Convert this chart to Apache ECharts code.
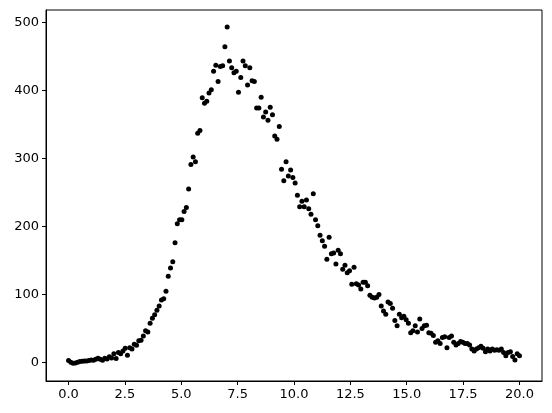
<!DOCTYPE html>
<html><head><meta charset="utf-8">
<script src="https://cdn.jsdelivr.net/npm/echarts@6/dist/echarts.min.js"></script>
<style>html,body{margin:0;padding:0;background:#fff}#c{width:552px;height:413px}</style>
</head><body><div id="c"></div>
<script>
// sampling grid: evenly spaced samples from X_START to X_END
const X_START = 0, X_END = 20;
// measured values, in order of x
const yValues = [
  3, 0.5, -1, -0.5, 0.5, 1.5, 2, 2.4, 2.4, 3,
  3.9, 3.4, 4.9, 6.4, 4.9, 3.4, 6.4, 5.4, 8.8, 6.9,
  13, 5.9, 15, 13, 17, 21, 11, 22, 20, 27,
  25.5, 32, 33, 39, 47, 45, 58, 65, 70.5, 77,
  83, 92, 94, 105, 127, 139, 148, 176, 204, 210,
  210, 222, 228, 255, 291, 302, 295, 337, 341, 389,
  381, 384, 396, 401, 428, 437, 413, 435, 436, 464,
  493, 443, 433, 426, 428, 397, 419, 443, 436, 408,
  433, 414, 413, 374, 374, 390, 361, 368, 356, 375,
  364, 333, 328, 347, 284, 267, 295, 274, 283, 272,
  264, 246, 229, 237, 229, 239, 226, 218, 248, 210,
  201, 187, 179, 171, 152, 184, 160, 161, 145, 165,
  160, 137, 143, 132, 135, 115, 140, 116, 114, 108,
  118, 118, 113, 99, 96, 95, 96, 100, 83, 76,
  71, 89, 87, 80, 62, 54, 71, 66, 68, 63,
  58, 44, 47, 54, 45, 64, 50, 54, 55, 44,
  43, 40, 30, 32, 28, 37, 38, 22, 37, 39,
  30, 26, 28, 31, 30, 28, 28, 26, 20, 17,
  20, 22, 24, 21, 16, 20, 17, 20, 18, 19,
  18, 20, 15, 10, 15, 16, 9, 4, 13, 10
];
const xTicks = [0, 2.5, 5, 7.5, 10, 12.5, 15, 17.5, 20];
const yTicks = [0, 100, 200, 300, 400, 500];

const points = yValues.map((y, i) => [X_START + (X_END - X_START) * i / (yValues.length - 1), y]);

const chart = echarts.init(document.getElementById('c'), null, {renderer: 'canvas'});
const labelStyle = {color: '#000', fontFamily: 'DejaVu Sans', fontSize: 13};
chart.setOption({
  animation: false,
  grid: {left: 46, right: 10, top: 10, bottom: 32, show: true, borderColor: '#000', borderWidth: 1},
  xAxis: {
    type: 'value', min: -1, max: 21,
    axisLine: {show: true, onZero: false, lineStyle: {color: '#000', width: 1}},
    axisTick: {show: true, customValues: xTicks, length: 4, lineStyle: {color: '#000', width: 1}},
    axisLabel: Object.assign({customValues: xTicks, formatter: v => v.toFixed(1), margin: 7}, labelStyle),
    splitLine: {show: false}
  },
  yAxis: {
    type: 'value', min: -27, max: 518,
    axisLine: {show: true, onZero: false, lineStyle: {color: '#000', width: 1}},
    axisTick: {show: true, customValues: yTicks, length: 4, lineStyle: {color: '#000', width: 1}},
    axisLabel: Object.assign({customValues: yTicks, formatter: v => String(v), margin: 7}, labelStyle),
    splitLine: {show: false}
  },
  series: [{
    type: 'scatter', data: points, symbol: 'circle', symbolSize: 5,
    itemStyle: {color: '#000', opacity: 1}
  }]
});
</script>
</body></html>
